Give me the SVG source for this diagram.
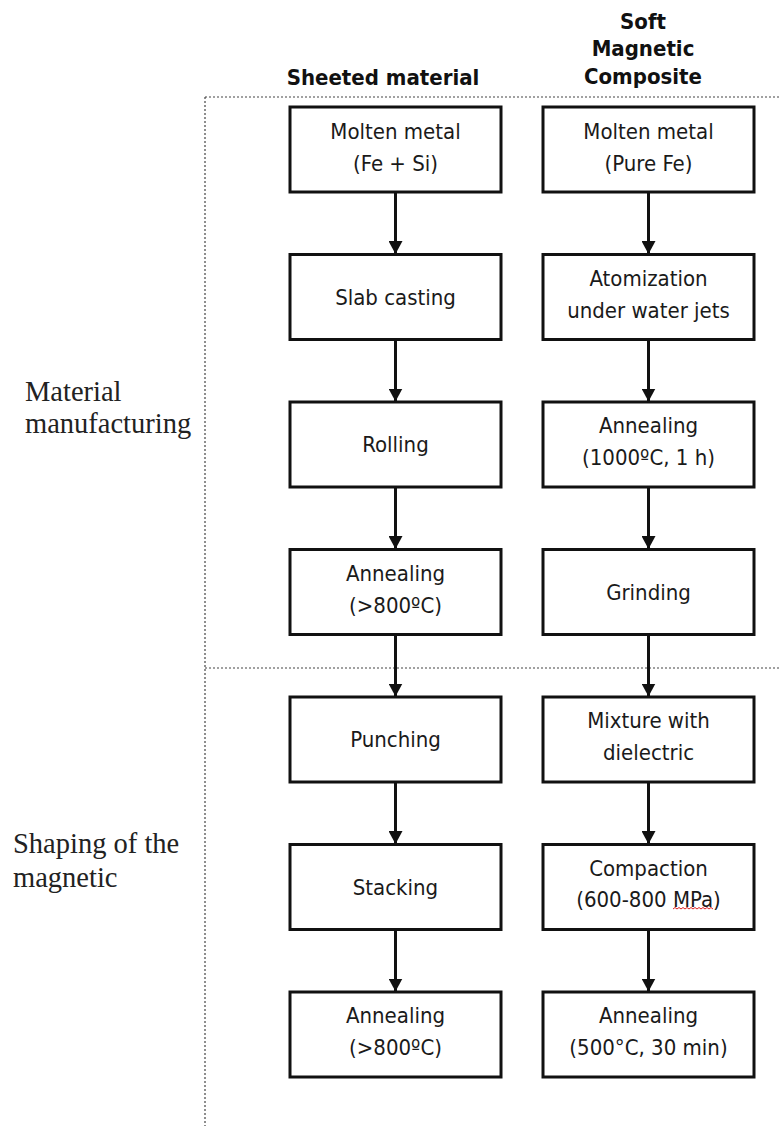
<svg xmlns="http://www.w3.org/2000/svg" width="779" height="1126" viewBox="0 0 779 1126">
<style>
.box{fill:#fff;stroke:#111;stroke-width:3}
.t{font-family:"DejaVu Sans Condensed","DejaVu Sans",sans-serif;font-size:22px;fill:#1a1a1a;text-anchor:middle}
.h{font-family:"DejaVu Sans Condensed","DejaVu Sans",sans-serif;font-size:22px;font-weight:bold;fill:#111;text-anchor:middle}
.lab{font-family:"Liberation Serif","Times New Roman",serif;font-size:28.5px;fill:#222}
.dot{stroke:#444;stroke-width:1.2;stroke-dasharray:2 2;fill:none}
.arr{stroke:#111;stroke-width:3;fill:none;marker-end:url(#ah)}
</style>
<defs>
<marker id="ah" markerUnits="userSpaceOnUse" markerWidth="14" markerHeight="14" refX="13" refY="7" orient="auto">
<path d="M0,0 L13,7 L0,14 z" fill="#111"/>
</marker>
</defs>
<rect width="779" height="1126" fill="#fff"/>
<g id="separators">
<line class="dot" x1="205" y1="97" x2="779" y2="97"/>
<line class="dot" x1="205" y1="668" x2="779" y2="668"/>
<line class="dot" x1="205" y1="97" x2="205" y2="1126"/>
</g>
<g id="labels">
<text class="h" x="383" y="85">Sheeted material</text>
<text class="h" x="643" y="29">Soft</text>
<text class="h" x="643" y="56">Magnetic</text>
<text class="h" x="643" y="84">Composite</text>
<text class="lab" x="25" y="401">Material</text>
<text class="lab" x="25" y="433">manufacturing</text>
<text class="lab" x="13" y="853">Shaping of the</text>
<text class="lab" x="13" y="887">magnetic</text>
</g>
<g id="connectors">
<line class="arr" x1="395.5" y1="192" x2="395.5" y2="254"/>
<line class="arr" x1="395.5" y1="339.5" x2="395.5" y2="401.5"/>
<line class="arr" x1="395.5" y1="487" x2="395.5" y2="549"/>
<line class="arr" x1="395.5" y1="634.5" x2="395.5" y2="696.5"/>
<line class="arr" x1="395.5" y1="782" x2="395.5" y2="844"/>
<line class="arr" x1="395.5" y1="929.5" x2="395.5" y2="991.5"/>
<line class="arr" x1="648.5" y1="192" x2="648.5" y2="254"/>
<line class="arr" x1="648.5" y1="339.5" x2="648.5" y2="401.5"/>
<line class="arr" x1="648.5" y1="487" x2="648.5" y2="549"/>
<line class="arr" x1="648.5" y1="634.5" x2="648.5" y2="696.5"/>
<line class="arr" x1="648.5" y1="782" x2="648.5" y2="844"/>
<line class="arr" x1="648.5" y1="929.5" x2="648.5" y2="991.5"/>
</g>
<g id="l1"><rect class="box" x="290" y="107" width="211" height="85"/><text class="t" x="395.5" y="139">Molten metal</text><text class="t" x="395.5" y="171">(Fe + Si)</text></g>
<g id="l2"><rect class="box" x="290" y="254.5" width="211" height="85"/><text class="t" x="395.5" y="305">Slab casting</text></g>
<g id="l3"><rect class="box" x="290" y="402" width="211" height="85"/><text class="t" x="395.5" y="452">Rolling</text></g>
<g id="l4"><rect class="box" x="290" y="549.5" width="211" height="85"/><text class="t" x="395.5" y="581">Annealing</text><text class="t" x="395.5" y="613">(&gt;800ºC)</text></g>
<g id="l5"><rect class="box" x="290" y="697" width="211" height="85"/><text class="t" x="395.5" y="747">Punching</text></g>
<g id="l6"><rect class="box" x="290" y="844.5" width="211" height="85"/><text class="t" x="395.5" y="895">Stacking</text></g>
<g id="l7"><rect class="box" x="290" y="992" width="211" height="85"/><text class="t" x="395.5" y="1023">Annealing</text><text class="t" x="395.5" y="1055">(&gt;800ºC)</text></g>
<g id="r1"><rect class="box" x="543" y="107" width="211" height="85"/><text class="t" x="648.5" y="139">Molten metal</text><text class="t" x="648.5" y="171">(Pure Fe)</text></g>
<g id="r2"><rect class="box" x="543" y="254.5" width="211" height="85"/><text class="t" x="648.5" y="286">Atomization</text><text class="t" x="648.5" y="318">under water jets</text></g>
<g id="r3"><rect class="box" x="543" y="402" width="211" height="85"/><text class="t" x="648.5" y="433">Annealing</text><text class="t" x="648.5" y="465">(1000ºC, 1 h)</text></g>
<g id="r4"><rect class="box" x="543" y="549.5" width="211" height="85"/><text class="t" x="648.5" y="600">Grinding</text></g>
<g id="r5"><rect class="box" x="543" y="697" width="211" height="85"/><text class="t" x="648.5" y="728">Mixture with</text><text class="t" x="648.5" y="760">dielectric</text></g>
<g id="r6"><rect class="box" x="543" y="844.5" width="211" height="85"/><text class="t" x="648.5" y="876">Compaction</text><text class="t" x="648.5" y="907">(600-800 MPa)</text>
<path d="M673,909 l2,-1.5 l2,1.5 l2,-1.5 l2,1.5 l2,-1.5 l2,1.5 l2,-1.5 l2,1.5 l2,-1.5 l2,1.5 l2,-1.5 l2,1.5 l2,-1.5 l2,1.5 l2,-1.5 l2,1.5 l2,-1.5 l2,1.5 l2,-1.5 l2,1.5" fill="none" stroke="#d22" stroke-width="1"/></g>
<g id="r7"><rect class="box" x="543" y="992" width="211" height="85"/><text class="t" x="648.5" y="1023">Annealing</text><text class="t" x="648.5" y="1055">(500°C, 30 min)</text></g>
</svg>
